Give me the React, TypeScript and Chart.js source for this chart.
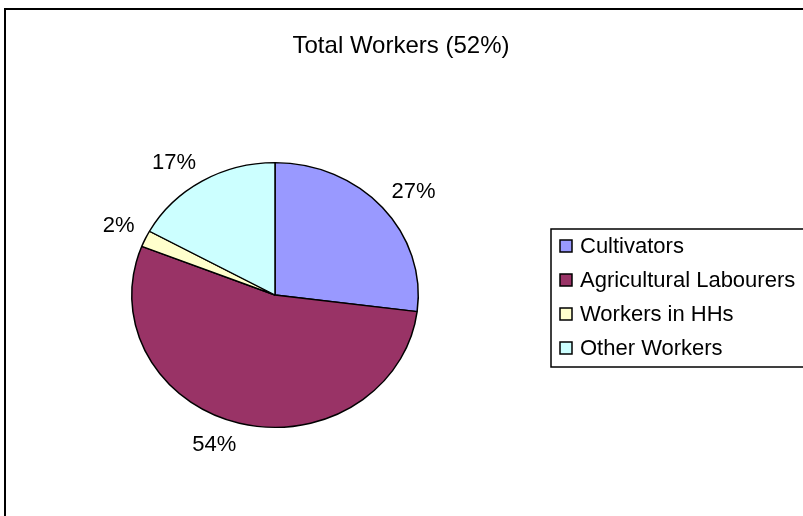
import React, { useEffect, useRef } from "react";
import { Chart, registerables } from "chart.js";

Chart.register(...registerables);

const categories = ["Cultivators", "Agricultural Labourers", "Workers in HHs", "Other Workers"];
const shares = [27, 54, 2, 17];
const sliceColors = ["#9999FF", "#993366", "#FFFFCC", "#CCFFFF"];
const chartTitle = "Total Workers (52%)";

const FONT = "'Liberation Sans', Arial, sans-serif";
const Y_SCALE = 0.924;

const framePlugin = {
  id: "frame",
  beforeDraw(chart: any) {
    const ctx = chart.ctx;
    ctx.save();
    ctx.fillStyle = "#fff";
    ctx.fillRect(0, 0, chart.width, chart.height);
    ctx.strokeStyle = "#000";
    ctx.lineWidth = 2;
    ctx.strokeRect(5, 9, chart.width + 20, chart.height + 20);
    ctx.font = `24px ${FONT}`;
    ctx.fillStyle = "#000";
    ctx.textAlign = "center";
    ctx.textBaseline = "middle";
    ctx.fillText(chartTitle, 401, 46);
    ctx.restore();
  },
};

const ellipsePlugin = {
  id: "ellipse",
  beforeDatasetsDraw(chart: any) {
    const arc = chart.getDatasetMeta(0).data[0] as any;
    const ctx = chart.ctx;
    ctx.save();
    ctx.translate(arc.x, arc.y);
    ctx.scale(1, Y_SCALE);
    ctx.translate(-arc.x, -arc.y);
  },
  afterDatasetsDraw(chart: any) {
    const ctx = chart.ctx;
    ctx.restore();
    const meta = chart.getDatasetMeta(0);
    const data = chart.data.datasets[0].data as number[];
    const total = data.reduce((a, b) => a + b, 0);
    ctx.save();
    ctx.font = `22px ${FONT}`;
    ctx.fillStyle = "#000";
    ctx.textAlign = "center";
    ctx.textBaseline = "middle";
    meta.data.forEach((el: any, i: number) => {
      const p = el.getProps(["x", "y", "startAngle", "endAngle", "outerRadius"], true);
      const mid = (p.startAngle + p.endAngle) / 2;
      const ux = Math.cos(mid);
      const uy = Math.sin(mid);
      const txt = `${Math.round((data[i] / total) * 100)}%`;
      const w = ctx.measureText(txt).width;
      const h = 18;
      const gap = 12;
      const px = p.x + ux * (p.outerRadius + gap);
      const py = p.y + uy * (p.outerRadius * Y_SCALE + gap);
      const x = px + Math.sign(ux) * w / 2;
      const y = py + Math.sign(uy) * h / 2 + 1;
      ctx.fillText(txt, x, y);
    });
    ctx.restore();
  },
};

const legendPlugin = {
  id: "boxLegend",
  afterDraw(chart: any) {
    const ctx = chart.ctx;
    const labels = chart.data.labels as string[];
    const colors = chart.data.datasets[0].backgroundColor as string[];
    const left = 551;
    const top = 229;
    const rowH = 34;
    ctx.save();
    ctx.strokeStyle = "#000";
    ctx.lineWidth = 1.5;
    ctx.strokeRect(left, top, chart.width, labels.length * rowH + 2);
    ctx.font = `22px ${FONT}`;
    ctx.textBaseline = "middle";
    ctx.textAlign = "left";
    ctx.lineWidth = 1.5;
    labels.forEach((lab, i) => {
      const cy = top + 17 + i * rowH;
      ctx.fillStyle = colors[i];
      ctx.fillRect(560, cy - 6, 12, 12);
      ctx.strokeRect(560, cy - 6, 12, 12);
      ctx.fillStyle = "#000";
      ctx.fillText(lab, 580, cy + 1);
    });
    ctx.restore();
  },
};

export default function App() {
  const ref = useRef<HTMLCanvasElement | null>(null);
  useEffect(() => {
    if (!ref.current) return;
    const chart = new Chart(ref.current, {
      type: "pie",
      data: {
        labels: categories,
        datasets: [
          {
            data: shares,
            backgroundColor: sliceColors,
            borderColor: "#000",
            borderWidth: 1.5,
          },
        ],
      },
      options: {
        responsive: false,
        animation: false,
        layout: { padding: { left: 131, right: 384, top: 151, bottom: 77 } },
        plugins: {
          legend: { display: false },
          tooltip: { enabled: false },
          title: { display: false },
        },
      },
      plugins: [framePlugin, ellipsePlugin, legendPlugin],
    });
    return () => chart.destroy();
  }, []);
  return (
    <div style={{ position: "fixed", left: 0, top: 0, width: 803, height: 516 }}>
      <canvas ref={ref} width={803} height={516} />
    </div>
  );
}
